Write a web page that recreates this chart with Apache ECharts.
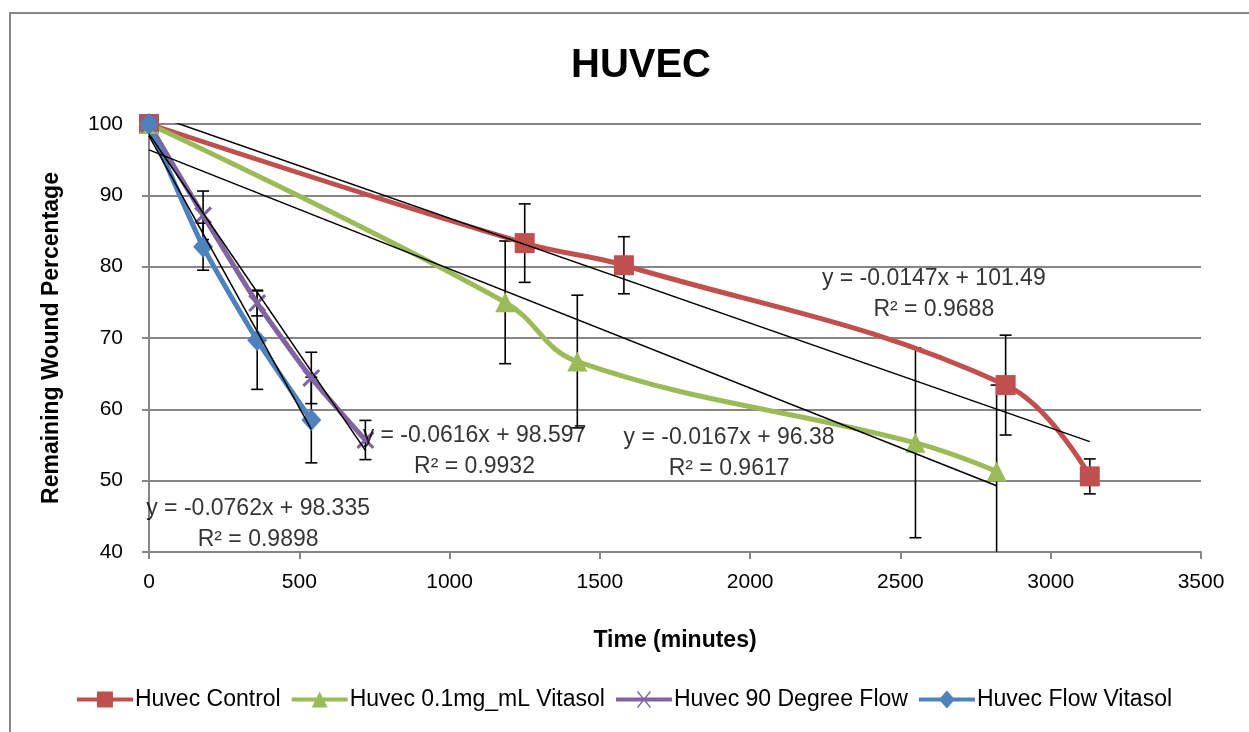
<!DOCTYPE html>
<html>
<head>
<meta charset="utf-8">
<script src="https://cdn.jsdelivr.net/npm/echarts@6/dist/echarts.min.js"></script>
<style>
html,body{margin:0;padding:0;background:#fff;}
#chart{width:1249px;height:732px;}
</style>
</head>
<body>
<div id="chart"></div>
<script>
// ---- data ----
var seriesNames = ['Huvec Control', 'Huvec 0.1mg_mL Vitasol', 'Huvec 90 Degree Flow', 'Huvec Flow Vitasol'];
var controlX = [0, 1250, 1580, 2850, 3130];
var controlY = [100, 83.3, 80.2, 63.4, 50.6];
var controlErr = [0, 5.5, 4.0, 7.0, 2.45];
var vitasolX = [0, 1185, 1425, 2550, 2820];
var vitasolY = [100, 75.0, 66.7, 55.3, 51.3];
var vitasolErr = [0, 8.6, 9.3, 13.3, 12.1];
var deg90X = [0, 180, 360, 540, 720];
var deg90Y = [100, 87.2, 74.9, 64.4, 55.7];
var deg90Err = [0, 3.4, 1.8, 3.6, 2.75];
var flowX = [0, 180, 360, 540];
var flowY = [100, 82.8, 69.7, 58.5];
var flowErr = [0, 3.3, 6.9, 6.0];
// trendlines (slope, intercept, x range end) and their labels
var trendSlope = [-0.0147, -0.0167, -0.0616, -0.0762];
var trendIntercept = [101.49, 96.38, 98.597, 98.335];
var trendEnd = [3130, 2820, 720, 540];
var trendLabelText = ['y = -0.0147x + 101.49\nR² = 0.9688', 'y = -0.0167x + 96.38\nR² = 0.9617', 'y = -0.0616x + 98.597\nR² = 0.9932', 'y = -0.0762x + 98.335\nR² = 0.9898'];
var trendLabelX = [2611, 1930, 1083, 363];
var trendLabelY = [76.1, 53.8, 54.2, 43.9];
var xTicks = [0, 500, 1000, 1500, 2000, 2500, 3000, 3500];
var yTicks = [40, 50, 60, 70, 80, 90, 100];

// ---- build ----
var colors = ['#C0504D', '#9BBB59', '#8064A2', '#4F81BD'];
var smoothness = [0.4, 0.4, 0.2, 0.2];
var FONT = 'Liberation Sans, Arial, sans-serif';
function pairs(xs, ys){ return xs.map(function(x,i){ return [x, ys[i]]; }); }
function errs(xs, ys, es){
  var out = [];
  xs.forEach(function(x,i){ if (es[i] > 0) out.push([x, ys[i], es[i]]); });
  return out;
}
var allX = [controlX, vitasolX, deg90X, flowX];
var allY = [controlY, vitasolY, deg90Y, flowY];
var allE = [controlErr, vitasolErr, deg90Err, flowErr];
var symbols = [
  'rect',
  'triangle',
  'path://M0,1.2 L1.2,0 L10,8.8 L8.8,10Z M8.8,0 L10,1.2 L1.2,10 L0,8.8Z',
  'diamond'
];
var symbolSizes = [20, 20, 18, [20, 22]];
var legendIcons = [
  'path://M0,7 L56,7 L56,11 L0,11Z M20,1 L36,1 L36,17 L20,17Z',
  'path://M0,7 L56,7 L56,11 L0,11Z M28,1 L36,17 L20,17Z',
  'path://M0,7 L56,7 L56,11 L0,11Z M21,1.5 L22,0.5 L35,16.5 L34,17.5Z M34,0.5 L35,1.5 L22,17.5 L21,16.5Z',
  'path://M0,7 L56,7 L56,11 L0,11Z M28,0 L36,9 L28,18 L20,9Z'
];

var series = [];
// error bars
var errData = [];
for (var s = 0; s < 4; s++) errData = errData.concat(errs(allX[s], allY[s], allE[s]));
series.push({
  type: 'custom',
  name: 'errbars',
  z: 1,
  clip: true,
  silent: true,
  data: errData,
  encode: {x: 0, y: 1},
  renderItem: function(params, api){
    var x = api.value(0), y = api.value(1), e = api.value(2);
    var top = api.coord([x, y + e]);
    var bot = api.coord([x, y - e]);
    var cap = 6;
    var st = {stroke: '#000', lineWidth: 1.6};
    return {
      type: 'group',
      children: [
        {type: 'line', shape: {x1: top[0], y1: top[1], x2: bot[0], y2: bot[1]}, style: st},
        {type: 'line', shape: {x1: top[0]-cap, y1: top[1], x2: top[0]+cap, y2: top[1]}, style: st},
        {type: 'line', shape: {x1: bot[0]-cap, y1: bot[1], x2: bot[0]+cap, y2: bot[1]}, style: st}
      ]
    };
  }
});
// main series
for (var s = 0; s < 4; s++) {
  series.push({
    type: 'line',
    name: seriesNames[s],
    data: pairs(allX[s], allY[s]),
    smooth: smoothness[s],
    z: 2,
    symbol: symbols[s],
    symbolSize: symbolSizes[s],
    showAllSymbol: true,
    lineStyle: {color: colors[s], width: 5},
    itemStyle: {color: colors[s]},
    emphasis: {disabled: true}
  });
}
// trendlines
for (var s = 0; s < 4; s++) {
  series.push({
    type: 'line',
    name: 'trend' + s,
    data: [[0, trendIntercept[s]], [trendEnd[s], trendIntercept[s] + trendSlope[s] * trendEnd[s]]],
    symbol: 'none',
    z: 3,
    silent: true,
    lineStyle: {color: '#000', width: 1.5},
    emphasis: {disabled: true}
  });
}
// trend labels
series.push({
  type: 'scatter',
  name: 'trendlabels',
  z: 4,
  silent: true,
  symbolSize: 0,
  data: trendLabelX.map(function(x,i){ return {value: [x, trendLabelY[i]], label: {formatter: trendLabelText[i], color: '#000'}}; }),
  label: {
    show: true,
    position: 'inside',
    color: '#000',
    textBorderWidth: 0,
    fontFamily: FONT,
    fontSize: 23,
    lineHeight: 31,
    align: 'center',
    verticalAlign: 'middle'
  }
});

var chart = echarts.init(document.getElementById('chart'), null, {renderer: 'canvas'});
chart.setOption({
  animation: false,
  backgroundColor: '#fff',
  title: {
    text: 'HUVEC',
    left: 636,
    top: 41,
    textAlign: 'center',
    textStyle: {fontFamily: FONT, fontWeight: 'bold', fontSize: 40, color: '#000'}
  },
  graphic: [{
    type: 'rect',
    shape: {x: 10, y: 13, width: 1300, height: 800},
    style: {fill: 'none', stroke: '#8a8a8a', lineWidth: 2},
    silent: true,
    z: 0
  }],
  legend: {
    bottom: 16,
    left: 'center',
    itemWidth: 56,
    itemHeight: 18,
    itemGap: 11,
    textStyle: {fontFamily: FONT, fontSize: 23, color: '#000', padding: [0, 0, 0, -3]},
    data: seriesNames.map(function(n, i){ return {name: n, icon: legendIcons[i], itemStyle: {color: colors[i]}}; })
  },
  grid: {left: 149, right: 48, top: 124, bottom: 180},
  xAxis: {
    type: 'value',
    min: xTicks[0],
    max: xTicks[xTicks.length - 1],
    interval: 500,
    name: 'Time (minutes)',
    nameLocation: 'middle',
    nameGap: 77,
    nameTextStyle: {fontFamily: FONT, fontWeight: 'bold', fontSize: 23, color: '#000'},
    axisLine: {show: true, lineStyle: {color: '#868686', width: 2}},
    axisTick: {show: true, length: 7, lineStyle: {color: '#868686', width: 2}},
    axisLabel: {fontFamily: FONT, fontSize: 21, color: '#000', margin: 20, formatter: function(v){ return String(v); }},
    splitLine: {show: false}
  },
  yAxis: {
    type: 'value',
    min: yTicks[0],
    max: yTicks[yTicks.length - 1],
    interval: 10,
    name: 'Remaining Wound Percentage',
    nameLocation: 'middle',
    nameGap: 86,
    nameTextStyle: {fontFamily: FONT, fontWeight: 'bold', fontSize: 23, color: '#000'},
    axisLine: {show: true, lineStyle: {color: '#868686', width: 2}},
    axisTick: {show: true, length: 7, lineStyle: {color: '#868686', width: 2}},
    axisLabel: {fontFamily: FONT, fontSize: 21, color: '#000', margin: 26, formatter: function(v){ return String(v); }},
    splitLine: {show: true, lineStyle: {color: '#868686', width: 2}}
  },
  series: series
});
</script>
</body>
</html>
